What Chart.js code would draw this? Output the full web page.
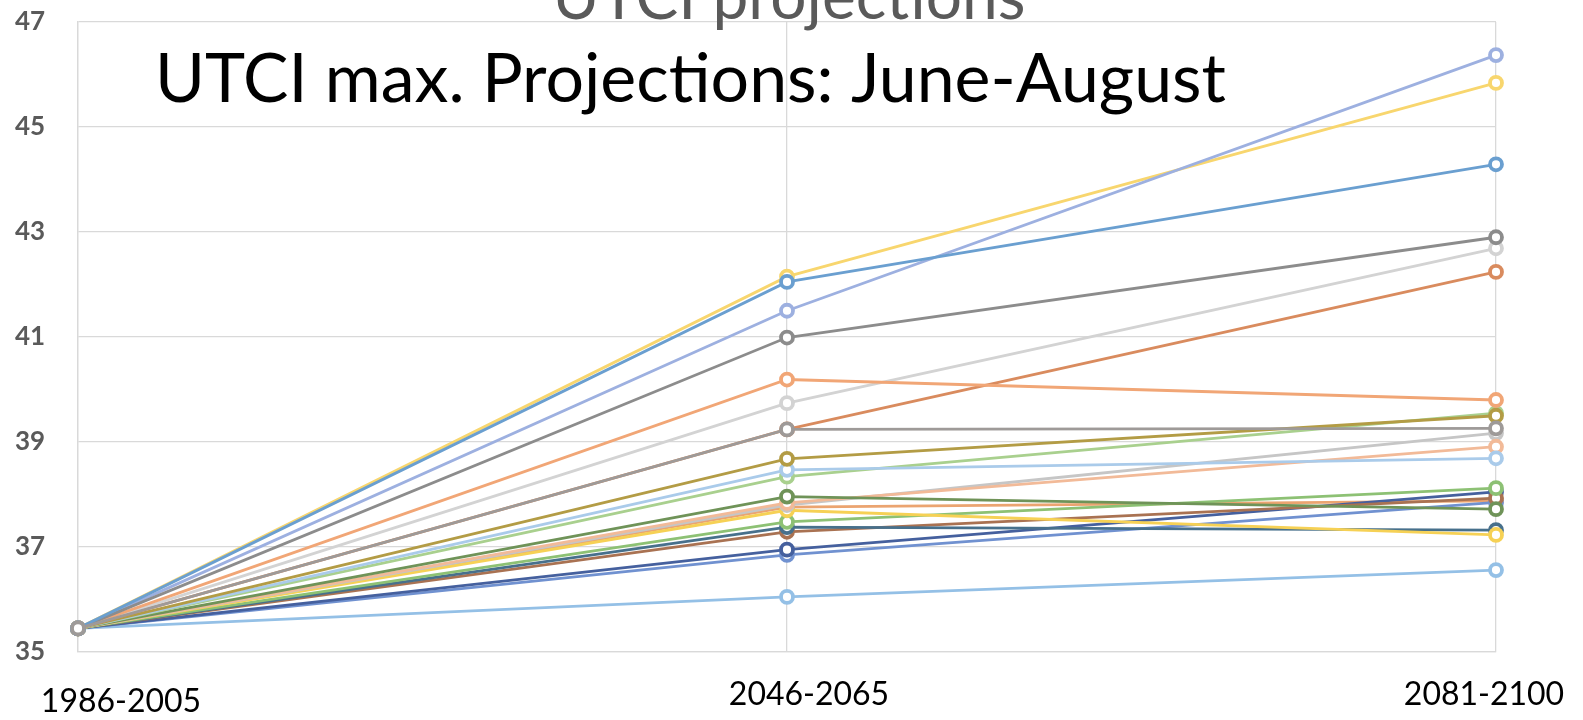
<!DOCTYPE html>
<html>
<head>
<meta charset="utf-8">
<script src="https://cdn.jsdelivr.net/npm/chart.js@4/dist/chart.umd.min.js"></script>
<style>
  html, body { margin: 0; padding: 0; background: #ffffff; }
  canvas { display: block; }
</style>
</head>
<body>
<canvas id="c" width="1583" height="720"></canvas>
<script>
// Periods on the x axis
const periods = ['1986-2005', '2046-2065', '2081-2100'];

// Y axis range and tick step (°C)
const yMin = 35;
const yMax = 47;
const yStep = 2;

// Titles
const chartTitle = 'UTCI projections';
const overlayTitle = 'UTCI max. Projections: June-August';

// UTCI max. per model run (one array per run, values for each period)
const runGray       = [35.45, 39.24, 39.26];
const runSteelBlue  = [35.45, 42.05, 44.29];
const runDarkGray   = [35.45, 40.99, 42.90];
const runLavender   = [35.45, 41.50, 46.37];
const runGold       = [35.45, 42.15, 45.84];
const runOrange     = [35.45, 40.19, 39.80];
const runSilver     = [35.45, 39.74, 42.69];
const runRust       = [35.45, 39.24, 42.24];
const runOlive      = [35.45, 38.68, 39.50];
const runSky        = [35.45, 38.47, 38.69];
const runLightGreen = [35.45, 38.34, 39.55];
const runForest     = [35.45, 37.96, 37.72];
const runPeach      = [35.45, 37.84, 38.91];
const runAsh        = [35.45, 37.80, 39.17];
const runAmber      = [35.45, 37.70, 37.23];
const runGreen      = [35.45, 37.48, 38.12];
const runTeal       = [35.45, 37.38, 37.32];
const runBrown      = [35.45, 37.29, 37.93];
const runNavy       = [35.45, 36.95, 38.05];
const runBlue       = [35.45, 36.85, 37.85];
const runTangerine  = [35.45, 37.76, 37.88];
const runPaleBlue   = [35.45, 36.05, 36.56];

const runs = [
  { data: runGray,       color: '#9E9A98' },
  { data: runSteelBlue,  color: '#6A9FD0' },
  { data: runDarkGray,   color: '#8C8C8C' },
  { data: runLavender,   color: '#9DB0E0' },
  { data: runGold,       color: '#F8D66E' },
  { data: runOrange,     color: '#F1A676' },
  { data: runSilver,     color: '#D3D3D3' },
  { data: runRust,       color: '#D98B5E' },
  { data: runOlive,      color: '#B39C45' },
  { data: runSky,        color: '#AACBEA' },
  { data: runLightGreen, color: '#A9D08E' },
  { data: runForest,     color: '#6F9358' },
  { data: runPeach,      color: '#F2BA98' },
  { data: runAsh,        color: '#C6C6C6' },
  { data: runAmber,      color: '#F6D155' },
  { data: runGreen,      color: '#8DC174' },
  { data: runTeal,       color: '#47708C' },
  { data: runBrown,      color: '#A97252' },
  { data: runNavy,       color: '#45609E' },
  { data: runBlue,       color: '#7091D0' },
  { data: runTangerine,  color: '#EBA470' },
  { data: runPaleBlue,   color: '#94C0E6' }
];

const datasets = runs.map((r, i) => ({
  label: 'Run ' + (i + 1),
  data: r.data,
  borderColor: r.color,
  backgroundColor: '#ffffff',
  borderWidth: 2.8,
  pointRadius: 6,
  pointBorderWidth: 3.8,
  pointBackgroundColor: '#ffffff',
  pointBorderColor: r.color,
  pointHoverRadius: 6,
  tension: 0,
  clip: false
}));

// Titles and period labels painted over the chart
const textLayer = {
  id: 'textLayer',
  afterDraw(chart) {
    const ctx = chart.ctx;
    const x = chart.scales.x;
    const area = chart.chartArea;
    ctx.save();

    // chart title, centred over the plot and running off the top edge
    ctx.fillStyle = '#5A5A5A';
    ctx.font = '64px Lato, "Open Sans", sans-serif';
    ctx.textAlign = 'center';
    ctx.textBaseline = 'alphabetic';
    ctx.fillText(chartTitle, (area.left + area.right) / 2 + 2, 19);

    // large black heading
    ctx.fillStyle = '#000000';
    ctx.font = '68px Lato, "Open Sans", sans-serif';
    ctx.textAlign = 'left';
    ctx.fillText(overlayTitle, 155, 102);

    // period labels under the axis
    const shifts = [43, 22, -12];
    const mids = [702, 695, 695];
    ctx.font = '32px Lato, "Open Sans", sans-serif';
    ctx.textAlign = 'center';
    ctx.textBaseline = 'middle';
    periods.forEach((p, i) => {
      ctx.fillText(p, x.getPixelForValue(i) + shifts[i], mids[i]);
    });
    ctx.restore();
  }
};

new Chart(document.getElementById('c'), {
  type: 'line',
  data: { labels: periods, datasets },
  plugins: [textLayer],
  options: {
    responsive: false,
    animation: false,
    layout: { autoPadding: false, padding: { top: 22, right: 87, bottom: 68, left: 15 } },
    plugins: {
      legend: { display: false },
      title: { display: false },
      tooltip: { enabled: false }
    },
    scales: {
      x: {
        offset: false,
        grid: { color: '#D9D9D9', lineWidth: 1.3, drawTicks: false },
        border: { color: '#D9D9D9', width: 1.3 },
        ticks: { display: false },
        afterFit(scale) { scale.height = 0; }
      },
      y: {
        min: yMin,
        max: yMax,
        grid: { color: '#D9D9D9', lineWidth: 1.3, drawTicks: false },
        border: { color: '#D9D9D9', width: 1.3 },
        ticks: {
          stepSize: yStep,
          padding: 0,
          crossAlign: 'far',
          color: '#5A5A5A',
          font: { family: 'Lato, "Open Sans", sans-serif', size: 26, weight: 'bold' }
        },
        afterFit(scale) { scale.width = 63; }
      }
    }
  }
});
</script>
</body>
</html>
